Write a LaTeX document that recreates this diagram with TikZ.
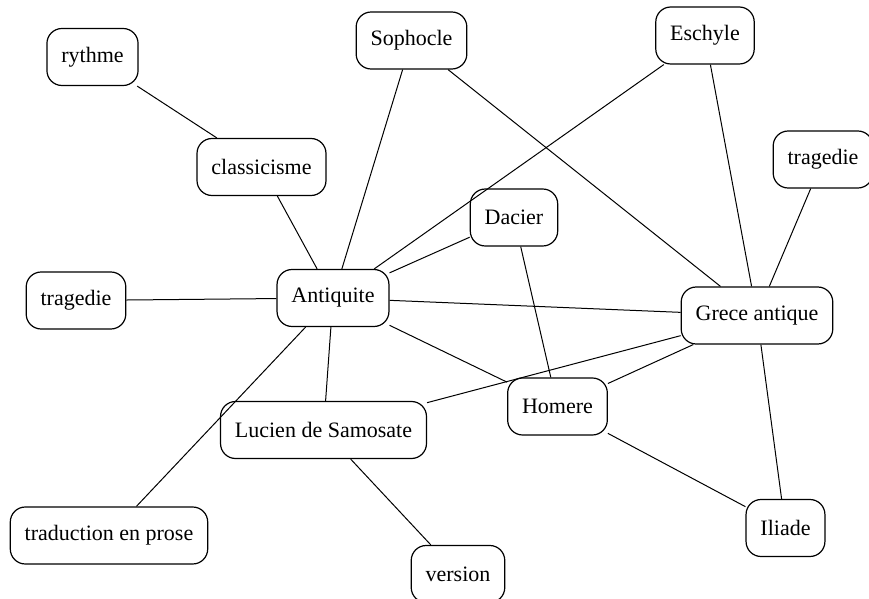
\documentclass[tikz,border=0pt]{standalone}
\usepackage{fontspec}
\setmainfont{Liberation Serif}
\begin{document}
\begin{tikzpicture}[x=0.5pt,y=-0.5pt,
  concept/.style={draw,rounded corners=7.5pt,line width=0.6pt,fill=white,
    inner xsep=7.2pt,minimum height=28.5pt,font=\fontsize{11}{13}\selectfont},
  link/.style={line width=0.5pt}]
\useasboundingbox (0,0) rectangle (869,599);
\node[concept] (rythme) at (92.5,57) {rythme};
\node[concept] (classicisme) at (261.5,167) {classicisme};
\node[concept] (sophocle) at (411.5,40.5) {Sophocle};
\node[concept] (eschyle) at (705,35.5) {Eschyle};
\node[concept] (tragedieR) at (823,159.5) {tragedie};
\node[concept] (dacier) at (514,217.5) {Dacier};
\node[concept] (tragedieL) at (76,300.5) {tragedie};
\node[concept] (antiquite) at (333,298) {Antiquite};
\node[concept] (grece) at (757,315.5) {Grece antique};
\node[concept] (homere) at (557.5,406.5) {Homere};
\node[concept] (lucien) at (323.5,430) {Lucien de Samosate};
\node[concept] (traduction) at (109,535.5) {traduction en prose};
\node[concept] (version) at (458,574) {version};
\node[concept] (iliade) at (785.5,528) {Iliade};
% liens
\draw[link] (rythme) -- (classicisme);
\draw[link] (classicisme) -- (antiquite);
\draw[link] (sophocle) -- (antiquite);
\draw[link] (sophocle) -- (grece);
\draw[link] (eschyle) -- (antiquite);
\draw[link] (eschyle) -- (grece);
\draw[link] (tragedieR) -- (grece);
\draw[link] (dacier) -- (antiquite);
\draw[link] (dacier) -- (homere);
\draw[link] (tragedieL) -- (antiquite);
\draw[link] (antiquite) -- (grece);
\draw[link] (antiquite) -- (homere);
\draw[link] (antiquite) -- (lucien);
\draw[link] (antiquite) -- (traduction);
\draw[link] (grece) -- (homere);
\draw[link] (grece) -- (lucien);
\draw[link] (grece) -- (iliade);
\draw[link] (homere) -- (iliade);
\draw[link] (lucien) -- (version);
\end{tikzpicture}
\end{document}
